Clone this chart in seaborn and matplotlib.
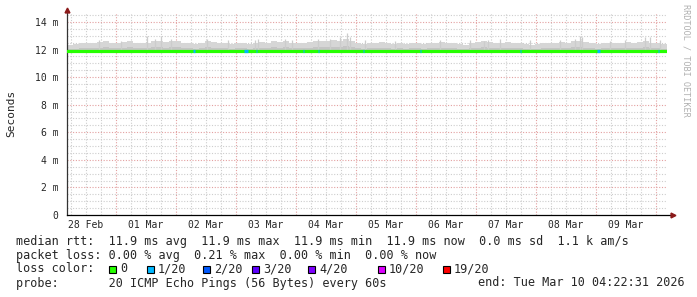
import matplotlib
matplotlib.use("Agg")
import matplotlib.pyplot as plt
from matplotlib.patches import Rectangle
import seaborn as sns
import pandas as pd
import numpy as np

# ---------------- data ----------------
# hours since start (Feb 28 04:22:31), 10 days = 240 h
median_hours = [0, 24, 48, 72, 96, 120, 144, 168, 192, 216, 240]
median_ms = [11.9, 11.9, 11.9, 11.9, 11.9, 11.9, 11.9, 11.9, 11.9, 11.9, 11.9]

# smoke upper edge (ms), one value per 2.4 h block
smoke_top = [12.35, 12.40, 12.45, 12.50, 12.45, 12.55, 12.60, 12.50, 12.45, 12.55,
             12.60, 12.50, 12.45, 12.50, 12.65, 12.60, 12.55, 12.65, 12.60, 12.50,
             12.45, 12.40, 12.45, 12.60, 12.55, 12.50, 12.45, 12.40, 12.45, 12.50,
             12.40, 12.45, 12.55, 12.50, 12.60, 12.55, 12.60, 12.50, 12.45, 12.50,
             12.55, 12.60, 12.65, 12.60, 12.70, 12.65, 12.75, 12.60, 12.50, 12.40,
             12.45, 12.50, 12.55, 12.45, 12.40, 12.45, 12.40, 12.50, 12.45, 12.40,
             12.45, 12.50, 12.55, 12.50, 12.45, 12.40, 12.35, 12.45, 12.55, 12.60,
             12.55, 12.50, 12.45, 12.55, 12.50, 12.45, 12.40, 12.35, 12.40, 12.45,
             12.50, 12.45, 12.55, 12.50, 12.60, 12.65, 12.55, 12.45, 12.40, 12.45,
             12.50, 12.45, 12.50, 12.55, 12.45, 12.55, 12.60, 12.50, 12.45, 12.40]
smoke_bottom_ms = 11.8

# isolated smoke spikes: (hour, ms)
spike_hours = [12.8, 21.6, 32.0, 35.2, 37.6, 41.6, 56.0, 64.4, 75.2, 76.4, 87.2, 90.0,
               100.4, 105.2, 109.2, 112.0, 113.2, 119.2, 131.2, 149.2, 161.2, 166.8,
               168.4, 173.2, 185.2, 197.2, 203.2, 205.2, 206.0, 217.2, 223.2, 231.2,
               233.2, 237.2]
spike_ms = [12.7, 12.65, 13.0, 12.8, 13.0, 12.8, 12.8, 12.7, 12.7, 12.75, 12.8, 12.7,
            12.75, 12.8, 12.9, 13.2, 12.9, 12.7, 12.65, 12.7, 12.7, 12.65,
            12.7, 12.75, 12.7, 12.7, 12.8, 13.0, 12.9, 12.65, 12.7, 12.9,
            12.9, 12.7]

# loss events: start hour, duration hours, loss level index
loss_start = [50.4, 70.8, 75.4, 94.2, 100.2, 118.2, 141.0, 181.0, 212.0, 236.2]
loss_dur = [0.6, 1.6, 0.6, 0.6, 0.6, 0.6, 0.6, 0.6, 1.2, 0.6]
loss_level = [1, 1, 1, 1, 1, 1, 1, 1, 1, 1]

loss_labels = ["0", "1/20", "2/20", "3/20", "4/20", "10/20", "19/20"]
loss_colors = ["#26ff00", "#00b8ff", "#0059ff", "#5e00ff", "#7e00ff", "#dd00ff", "#ff0000"]

day_labels = ["28 Feb", "01 Mar", "02 Mar", "03 Mar", "04 Mar",
              "05 Mar", "06 Mar", "07 Mar", "08 Mar", "09 Mar"]
y_ticks = [0, 2, 4, 6, 8, 10, 12, 14]
y_labels = ["0", "2 m", "4 m", "6 m", "8 m", "10 m", "12 m", "14 m"]

legend_lines = [
    "median rtt:  11.9 ms avg  11.9 ms max  11.9 ms min  11.9 ms now  0.0 ms sd  1.1 k am/s",
    "packet loss: 0.00 % avg  0.21 % max  0.00 % min  0.00 % now",
]
probe_text = "probe:       20 ICMP Echo Pings (56 Bytes) every 60s"
end_text = "end: Tue Mar 10 04:22:31 2026"

# ---------------- figure ----------------
sns.set_style("white")
MONO = ["DejaVu Sans Mono"]
plt.rcParams["font.family"] = MONO

W, H = 697, 297
fig = plt.figure(figsize=(W / 100, H / 100), dpi=100)
fig.patch.set_facecolor("white")
ax = fig.add_axes([67 / W, (H - 215) / H, 600 / W, (215 - 13) / H])
ax.set_facecolor("white")
XMAX, YMAX = 240, 14.65
ax.set_xlim(0, XMAX)
ax.set_ylim(0, YMAX)

# grid (behind data)
minor_c, major_c = "#cdcdcd", "#e3a0a0"
dot = (0, (1, 1.5))
first_midnight = 19.625
for h in np.arange(first_midnight - 18, XMAX, 6):
    is_major = abs(((h - first_midnight) / 24) - round((h - first_midnight) / 24)) < 1e-6
    ax.axvline(h, color=major_c if is_major else minor_c, lw=0.8, ls=dot, zorder=0)
for v in np.arange(0.5, YMAX, 0.5):
    is_major = abs(v / 2 - round(v / 2)) < 1e-6
    ax.axhline(v, color=major_c if is_major else minor_c, lw=0.8, ls=dot, zorder=0)

# smoke
block = XMAX / len(smoke_top)
edges = np.arange(len(smoke_top) + 1) * block
ax.stairs(smoke_top, edges, baseline=smoke_bottom_ms, fill=True, color="#d6d6d6", zorder=1, lw=0)
inner = [smoke_bottom_ms + (t - smoke_bottom_ms) * 0.45 for t in smoke_top]
ax.stairs(inner, edges, baseline=smoke_bottom_ms, fill=True, color="#c4c4c4", zorder=1, lw=0)
ax.vlines(spike_hours, smoke_bottom_ms, spike_ms, color="#cccccc", lw=0.9, zorder=1)

# median line
df = pd.DataFrame({"hour": median_hours, "median": median_ms})
sns.lineplot(data=df, x="hour", y="median", ax=ax, color=loss_colors[0], lw=2.3, zorder=3)
for s, d, lv in zip(loss_start, loss_dur, loss_level):
    m = np.interp(s, median_hours, median_ms)
    ax.hlines(m, s, s + d, color=loss_colors[lv], lw=2.3, zorder=4)

# axes cosmetics
for side in ["top", "right"]:
    ax.spines[side].set_visible(False)
ax.spines["left"].set_color("#333333")
ax.spines["bottom"].set_color("#000000")
ax.spines["left"].set_linewidth(0.9)
ax.spines["bottom"].set_linewidth(0.9)
ax.spines["bottom"].set_bounds(0, XMAX + 2)
ax.plot([0], [YMAX + 0.25], marker="^", color="#8b1a1a", ms=3.5, clip_on=False, zorder=5)
ax.plot([XMAX + 2.2], [0], marker=">", color="#8b1a1a", ms=3.5, clip_on=False, zorder=5)

ax.set_xticks([first_midnight - 12 + 24 * i for i in range(len(day_labels))])
ax.set_xticklabels(day_labels, fontsize=7, family=MONO)
ax.set_yticks(y_ticks)
ax.set_yticklabels(y_labels, fontsize=7, family=MONO)
ax.tick_params(axis="x", length=0, pad=3.5)
ax.tick_params(axis="y", length=2, color="#888888", pad=4)
ax.set_xlabel("")
ax.set_ylabel("")

fig.text(11 / W, 1 - 113 / H, "Seconds", rotation=90, ha="center", va="center",
         fontsize=8, family=MONO)
fig.text(686 / W, 1 - 60 / H, "RRDTOOL / TOBI OETIKER", rotation=270, ha="center",
         va="center", fontsize=6.1, family=MONO, color="#b0b0b0")

# legend text
fs = 8.5
fig.text(16 / W, 1 - 241 / H, legend_lines[0], ha="left", va="center", fontsize=fs, family=MONO)
fig.text(16 / W, 1 - 255 / H, legend_lines[1], ha="left", va="center", fontsize=fs, family=MONO)
fig.text(16 / W, 1 - 269 / H, "loss color:", ha="left", va="center", fontsize=fs, family=MONO)
box_x = [109, 147, 203, 252, 308, 378, 443]
for bx, lab, col in zip(box_x, loss_labels, loss_colors):
    fig.patches.append(Rectangle((bx / W, 1 - 273 / H), 7 / W, 7.5 / H, transform=fig.transFigure,
                                 facecolor=col, edgecolor="black", lw=0.8))
    fig.text((bx + 11) / W, 1 - 269 / H, lab, ha="left", va="center", fontsize=fs, family=MONO)
fig.text(16 / W, 1 - 283 / H, probe_text, ha="left", va="center", fontsize=fs, family=MONO)
fig.text(478 / W, 1 - 283 / H, end_text, ha="left", va="center", fontsize=fs, family=MONO)

fig.savefig("out.png", dpi=100, facecolor="white")
